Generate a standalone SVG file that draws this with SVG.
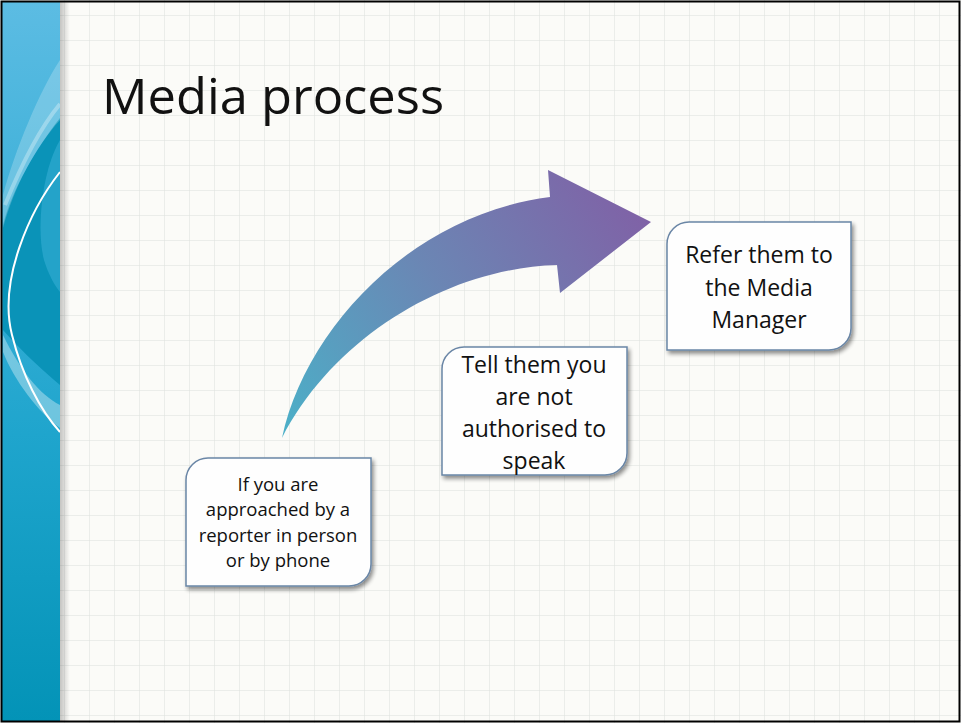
<svg xmlns="http://www.w3.org/2000/svg" width="961" height="723" viewBox="0 0 961 723">
<defs>
<pattern id="grid" x="64" y="15" width="25" height="25" patternUnits="userSpaceOnUse">
<path d="M0,0 H25 M0,0 V25" stroke="#dcdfdc" stroke-width="1" fill="none"/>
</pattern>
<linearGradient id="band" x1="0" y1="0" x2="0" y2="1">
<stop offset="0" stop-color="#5cbce3"/>
<stop offset="0.6" stop-color="#1fa5cd"/>
<stop offset="1" stop-color="#0393b7"/>
</linearGradient>
<linearGradient id="shade" x1="0" y1="0" x2="1" y2="0">
<stop offset="0" stop-color="#000" stop-opacity="0.22"/>
<stop offset="1" stop-color="#000" stop-opacity="0"/>
</linearGradient>
<linearGradient id="arrowGrad" x1="282" y1="438" x2="640" y2="200" gradientUnits="userSpaceOnUse">
<stop offset="0" stop-color="#4bb0c8"/>
<stop offset="0.5" stop-color="#6b86b4"/>
<stop offset="1" stop-color="#8061a6"/>
</linearGradient>
<filter id="sh" x="-10%" y="-10%" width="130%" height="130%">
<feGaussianBlur in="SourceAlpha" stdDeviation="2"/>
<feOffset dx="2" dy="3"/>
<feComponentTransfer><feFuncA type="linear" slope="0.45"/></feComponentTransfer>
<feMerge><feMergeNode/><feMergeNode in="SourceGraphic"/></feMerge>
</filter>
</defs>
<style>
.box{fill:#fefefe;stroke:#6a86a6;stroke-width:1.5;filter:url(#sh)}
.t{font-family:"Open Sans","Liberation Sans",sans-serif;fill:#111;text-anchor:middle}
</style>
<rect x="0" y="0" width="961" height="723" fill="#fbfbf8"/>
<rect x="60" y="0" width="901" height="723" fill="url(#grid)"/>
<g id="band-deco">
<rect x="2" y="2" width="58" height="720" fill="url(#band)"/>
<path d="M60,118 C35,150 12,190 3,225 L3,330 C25,355 45,372 60,385 Z" fill="#0a93b8"/>
<path d="M60,140 C42,170 36,230 44,260 C49,276 55,286 60,292 Z" fill="#2ba7cd" opacity="0.8"/>
<path d="M60,60 C40,90 15,150 3,195 L3,228 C15,185 35,148 60,120 Z" fill="#ffffff" opacity="0.22"/>
<path d="M60,104 C40,128 20,168 5,205" fill="none" stroke="#ffffff" stroke-width="4" opacity="0.3"/>
<path d="M3,335 C20,370 40,395 60,405 L60,428 C38,412 14,380 3,352 Z" fill="#ffffff" opacity="0.35"/>
<path d="M60,172 C30,210 -2,280 12,335 C22,375 40,410 60,432" fill="none" stroke="#ffffff" stroke-width="2"/>
<rect x="60" y="2" width="10" height="720" fill="url(#shade)"/>
</g>
<rect x="1.5" y="1.5" width="958" height="720" fill="none" stroke="#000" stroke-width="2"/>
<text id="title" x="102" y="114" font-family="Open Sans, Liberation Sans, sans-serif" font-size="49" fill="#111" textLength="342" lengthAdjust="spacingAndGlyphs">Media process</text>
<g id="connectors">
<path d="M282,438 C305,330 410,215 550,197 L548,170 L651,222 L560,293 L557,265 C450,268 335,335 282,438 Z" fill="url(#arrowGrad)"/>
</g>
<g id="node1">
<path class="box" d="M186,480 A22,22 0 0 1 208,458 L371,458 L371,564 A22,22 0 0 1 349,586 L186,586 Z"/>
<text class="t" font-size="18.5" x="278" y="491">If you are</text>
<text class="t" font-size="18.5" x="278" y="516">approached by a</text>
<text class="t" font-size="18.5" x="278" y="542">reporter in person</text>
<text class="t" font-size="18.5" x="278" y="567">or by phone</text>
</g>
<g id="node2">
<path class="box" d="M442,369 A22,22 0 0 1 464,347 L627,347 L627,453 A22,22 0 0 1 605,475 L442,475 Z"/>
<text class="t" font-size="23" x="534" y="373">Tell them you</text>
<text class="t" font-size="23" x="534" y="405">are not</text>
<text class="t" font-size="23" x="534" y="437">authorised to</text>
<text class="t" font-size="23" x="534" y="469">speak</text>
</g>
<g id="node3">
<path class="box" d="M667,244 A22,22 0 0 1 689,222 L851,222 L851,328 A22,22 0 0 1 829,350 L667,350 Z"/>
<text class="t" font-size="23" x="759" y="263">Refer them to</text>
<text class="t" font-size="23" x="759" y="296">the Media</text>
<text class="t" font-size="23" x="759" y="328">Manager</text>
</g>
</svg>
